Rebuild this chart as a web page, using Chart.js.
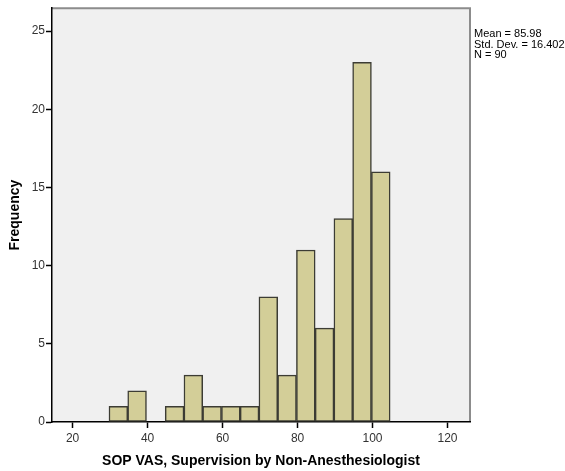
<!DOCTYPE html>
<html>
<head>
<meta charset="utf-8">
<script src="https://cdn.jsdelivr.net/npm/chart.js@4"></script>
<style>
  html, body { margin: 0; padding: 0; background: #fff; }
  #wrap { width: 565px; height: 471px; position: relative; }
</style>
</head>
<body>
<div id="wrap"><canvas id="myChart"></canvas></div>
<script>
// bin centres (width 5) and counts
const binCenters = [32.2, 37.2, 42.2, 47.2, 52.2, 57.2, 62.2, 67.2, 72.2, 77.2, 82.2, 87.2, 92.2, 97.2, 102.2];
const counts     = [1, 2, 0, 1, 3, 1, 1, 1, 8, 3, 11, 6, 13, 23, 16];
const xTicks = [20, 40, 60, 80, 100, 120];
const yTicks = [0, 5, 10, 15, 20, 25];
const statsLines = ["Mean = 85.98", "Std. Dev. = 16.402", "N = 90"];

const FONT = "'Liberation Sans', Arial, sans-serif";

// grey plot background + frame, stats text on the right
const panelPlugin = {
  id: 'panel',
  beforeDraw(chart) {
    const { ctx, chartArea: a } = chart;
    ctx.save();
    ctx.fillStyle = '#f0f0f0';
    ctx.fillRect(a.left, a.top, a.right - a.left, a.bottom - a.top);
    ctx.strokeStyle = '#8c8c8c';
    ctx.lineWidth = 2;
    ctx.beginPath();
    ctx.moveTo(a.left, a.top);
    ctx.lineTo(a.right, a.top);
    ctx.lineTo(a.right, a.bottom);
    ctx.stroke();
    ctx.restore();
  },
  afterDraw(chart) {
    const { ctx, chartArea: a } = chart;
    ctx.save();
    ctx.fillStyle = '#000';
    ctx.font = '11px ' + FONT;
    ctx.textBaseline = 'middle';
    statsLines.forEach((t, i) => {
      ctx.fillText(t, a.right + 4, 34 + i * 10.5);
    });
    ctx.restore();
  }
};

const ctx = document.getElementById('myChart').getContext('2d');
const myChart = new Chart(ctx, {
  type: 'bar',
  data: {
    datasets: [{
      data: binCenters.map((x, i) => ({ x: x, y: counts[i] })),
      backgroundColor: '#d3ce98',
      borderColor: '#3c3c34',
      borderWidth: 1.5,
      borderSkipped: false,
      barPercentage: 1,
      categoryPercentage: 1,
      grouped: false
    }]
  },
  plugins: [panelPlugin],
  options: {
    responsive: true,
    maintainAspectRatio: false,
    animation: false,
    layout: { padding: { top: 6, right: 95, left: 0, bottom: 0 } },
    plugins: {
      legend: { display: false },
      tooltip: { enabled: false }
    },
    scales: {
      x: {
        type: 'linear',
        offset: false,
        min: 14.5,
        max: 126,
        afterBuildTicks: (s) => { s.ticks = xTicks.map(v => ({ value: v })); },
        afterFit: (s) => { s.height = 49; },
        grid: { offset: false, drawOnChartArea: false, drawTicks: true, tickLength: 6, tickColor: '#000', tickWidth: 1.5 },
        border: { display: true, color: '#000', width: 1.5 },
        ticks: { color: '#333', font: { family: FONT, size: 12 }, padding: 3, maxRotation: 0, autoSkip: false },
        title: {
          display: true,
          text: 'SOP VAS, Supervision by Non-Anesthesiologist',
          color: '#000',
          font: { family: FONT, size: 14, weight: 'bold' },
          padding: { top: 0, bottom: 1 }
        }
      },
      y: {
        min: 0,
        max: 26.46,
        afterBuildTicks: (s) => { s.ticks = yTicks.map(v => ({ value: v })); },
        afterFit: (s) => { s.width = 52; },
        grid: { drawOnChartArea: false, drawTicks: true, tickLength: 6, tickColor: '#000', tickWidth: 1.5 },
        border: { display: true, color: '#000', width: 1.5 },
        ticks: { color: '#333', font: { family: FONT, size: 12 }, padding: 1, autoSkip: false },
        title: {
          display: true,
          text: 'Frequency',
          color: '#000',
          font: { family: FONT, size: 14, weight: 'bold' },
          padding: { top: 7, bottom: 0 }
        }
      }
    }
  }
});
</script>
</body>
</html>
